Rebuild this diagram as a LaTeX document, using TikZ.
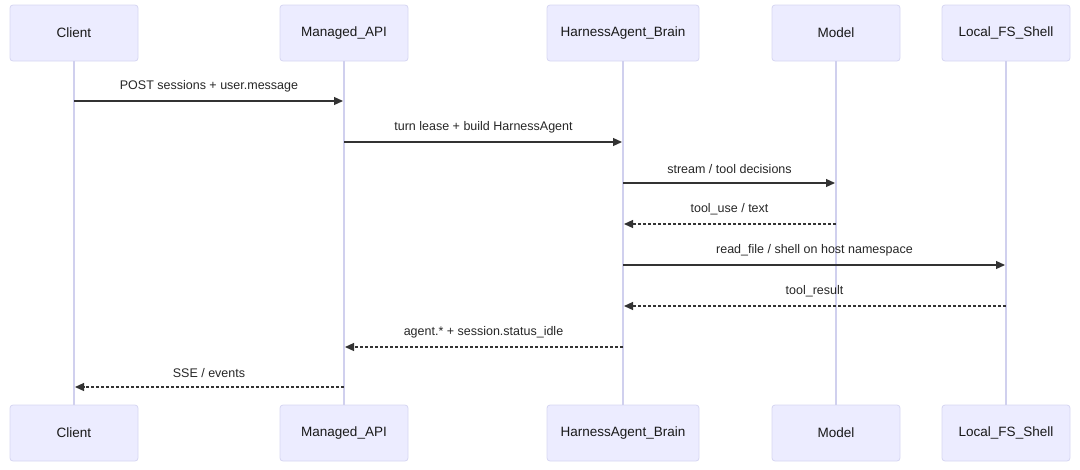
\documentclass[tikz,border=0pt]{standalone}
\usepackage{fontspec}
\setmainfont{Liberation Sans}
\usepackage{xcolor}
\usetikzlibrary{positioning, arrows.meta, calc}

\definecolor{actorfill}{HTML}{ECECFF}
\definecolor{actorline}{HTML}{D6D6F2}
\definecolor{lifeline}{HTML}{D0D0EE}
\definecolor{msgcol}{HTML}{333333}

\begin{document}
\begin{tikzpicture}[
    x=1pt, y=-1pt,
    actor/.style={rectangle, draw=actorline, fill=actorfill, rounded corners=3pt, minimum height=56pt, font=\fontsize{13.5}{16}\selectfont, text=black!90, line width=0.8pt},
    life/.style={draw=lifeline, line width=1.2pt},
    msg/.style={-{Triangle[length=9pt,width=8pt]}, draw=msgcol, line width=1.2pt, shorten >=1pt},
    reply/.style={msg, dash pattern=on 3pt off 2pt},
    msglabel/.style={font=\fontsize{12.5}{15}\selectfont, text=black!85}
]
\useasboundingbox (0,0) rectangle (1080,469);

% top actors
\node[actor, minimum width=128pt] (clientT) at (74,33) {Client};
\node[actor, minimum width=128pt] (apiT) at (344,33) {Managed\_API};
\node[actor, minimum width=152pt] (brainT) at (623,33) {HarnessAgent\_Brain};
\node[actor, minimum width=128pt] (modelT) at (836,33) {Model};
\node[actor, minimum width=128pt] (shellT) at (1006,33) {Local\_FS\_Shell};

% bottom actors
\node[actor, minimum width=128pt] (clientB) at (74,433) {Client};
\node[actor, minimum width=128pt] (apiB) at (344,433) {Managed\_API};
\node[actor, minimum width=152pt] (brainB) at (623,433) {HarnessAgent\_Brain};
\node[actor, minimum width=128pt] (modelB) at (836,433) {Model};
\node[actor, minimum width=128pt] (shellB) at (1006,433) {Local\_FS\_Shell};

% lifelines
\draw[life] (clientT) -- (clientB);
\draw[life] (apiT) -- (apiB);
\draw[life] (brainT) -- (brainB);
\draw[life] (modelT) -- (modelB);
\draw[life] (shellT) -- (shellB);

% message rows
\coordinate (m1) at (0,101);
\coordinate (m2) at (0,142);
\coordinate (m3) at (0,183);
\coordinate (m4) at (0,224);
\coordinate (m5) at (0,265);
\coordinate (m6) at (0,306);
\coordinate (m7) at (0,347);
\coordinate (m8) at (0,387);

\draw[msg] (clientT |- m1) -- node[msglabel, above=5pt] {POST sessions + user.message} (apiT |- m1);
\draw[msg] (apiT |- m2) -- node[msglabel, above=5pt] {turn lease + build HarnessAgent} (brainT |- m2);
\draw[msg] (brainT |- m3) -- node[msglabel, above=5pt] {stream / tool decisions} (modelT |- m3);
\draw[reply] (modelT |- m4) -- node[msglabel, above=5pt] {tool\_use / text} (brainT |- m4);
\draw[msg] (brainT |- m5) -- node[msglabel, above=5pt] {read\_file / shell on host namespace} (shellT |- m5);
\draw[reply] (shellT |- m6) -- node[msglabel, above=5pt] {tool\_result} (brainT |- m6);
\draw[reply] (brainT |- m7) -- node[msglabel, above=5pt] {agent.* + session.status\_idle} (apiT |- m7);
\draw[reply] (apiT |- m8) -- node[msglabel, above=5pt] {SSE / events} (clientT |- m8);
\end{tikzpicture}
\end{document}
